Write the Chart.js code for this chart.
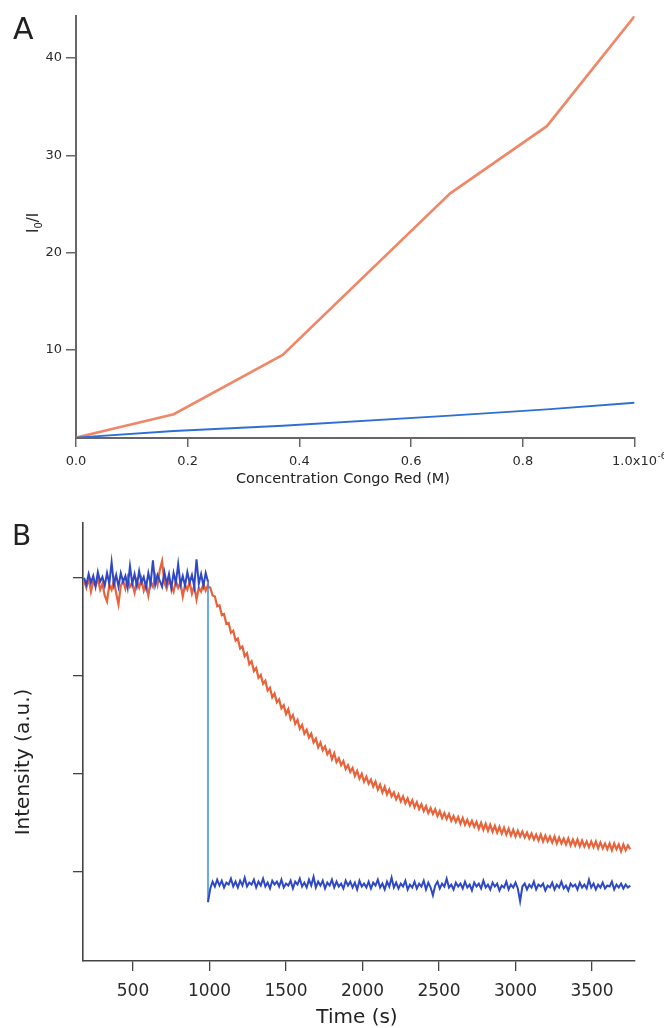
<!DOCTYPE html>
<html><head><meta charset="utf-8">
<script src="https://cdn.jsdelivr.net/npm/chart.js@4.4.1/dist/chart.umd.min.js"></script>
<style>
html,body{margin:0;padding:0;background:#fff;width:664px;height:1028px;overflow:hidden}
#wa{position:absolute;left:0;top:0;width:664px;height:490px}
#wb{position:absolute;left:0;top:490px;width:664px;height:538px}
</style></head><body>
<div id="wa"><canvas id="ca"></canvas></div>
<div id="wb"><canvas id="cb"></canvas></div>
<script>
// ---------- Panel A data ----------
const concentrationM = [0, 0.175e-6, 0.37e-6, 0.67e-6, 0.843e-6, 1.0e-6];
const ratioCongoRed  = [1.0, 3.4, 9.5, 26.1, 33.0, 44.3];
const ratioControl   = [1.0, 1.68, 2.22, 3.25, 3.9, 4.58];
const concTicks      = [0, 0.2e-6, 0.4e-6, 0.6e-6, 0.8e-6, 1.0e-6];
const concTickLabels = ['0.0', '0.2', '0.4', '0.6', '0.8', '1.0x10'];
const ratioTicks     = [10, 20, 30, 40];

// ---------- Panel B data ----------
const timeS = [
 180,195,210,225,240,255,270,285,300,315,330,345,360,375,390,405,420,435,450,465,480,495,510,525,540,555,570,585,600,615,630,645,660,675,690,705,720,735,750,765,780,795,810,825,840,855,870,885,900,915,930,945,960,975,990,
 990,
 1005,1020,1035,1050,1065,1080,1095,1110,1125,1140,
 1155,1170,1185,1200,1215,1230,1245,1260,1275,1290,
 1305,1320,1335,1350,1365,1380,1395,1410,1425,1440,
 1455,1470,1485,1500,1515,1530,1545,1560,1575,1590,
 1605,1620,1635,1650,1665,1680,1695,1710,1725,1740,
 1755,1770,1785,1800,1815,1830,1845,1860,1875,1890,
 1905,1920,1935,1950,1965,1980,1995,2010,2025,2040,
 2055,2070,2085,2100,2115,2130,2145,2160,2175,2190,
 2205,2220,2235,2250,2265,2280,2295,2310,2325,2340,
 2355,2370,2385,2400,2415,2430,2445,2460,2475,2490,
 2505,2520,2535,2550,2565,2580,2595,2610,2625,2640,
 2655,2670,2685,2700,2715,2730,2745,2760,2775,2790,
 2805,2820,2835,2850,2865,2880,2895,2910,2925,2940,
 2955,2970,2985,3000,3015,3030,3045,3060,3075,3090,
 3105,3120,3135,3150,3165,3180,3195,3210,3225,3240,
 3255,3270,3285,3300,3315,3330,3345,3360,3375,3390,
 3405,3420,3435,3450,3465,3480,3495,3510,3525,3540,
 3555,3570,3585,3600,3615,3630,3645,3660,3675,3690,
 3705,3720,3735,3750];
const intensityRed = [
 3.97,3.90,4.00,3.86,3.96,3.92,3.99,3.88,3.94,3.82,3.76,3.93,3.88,3.98,3.84,3.73,3.92,3.97,3.89,4.00,3.91,3.95,3.85,3.97,3.90,3.99,3.87,3.94,3.82,3.96,3.91,4.02,3.93,4.08,4.17,3.95,3.89,3.98,3.92,3.86,3.97,3.90,3.95,3.81,3.93,3.88,3.96,3.84,3.92,3.78,3.90,3.86,3.94,3.87,3.93,
 3.91,
 3.90,3.82,3.81,3.71,3.72,3.62,3.63,3.53,3.54,3.44,
 3.46,3.36,3.38,3.28,3.30,3.20,3.23,3.12,3.15,3.05,
 3.08,2.98,3.01,2.92,2.95,2.85,2.88,2.78,2.82,2.73,
 2.76,2.67,2.70,2.61,2.66,2.56,2.60,2.51,2.55,2.46,
 2.50,2.41,2.45,2.37,2.41,2.32,2.36,2.27,2.32,2.24,
 2.28,2.20,2.24,2.15,2.21,2.12,2.16,2.09,2.13,2.05,
 2.09,2.02,2.06,1.98,2.03,1.95,2.00,1.92,1.97,1.90,
 1.94,1.87,1.92,1.84,1.89,1.81,1.87,1.79,1.84,1.77,
 1.81,1.74,1.79,1.72,1.77,1.70,1.75,1.68,1.73,1.66,
 1.71,1.64,1.69,1.62,1.67,1.60,1.65,1.59,1.64,1.57,
 1.62,1.55,1.60,1.54,1.59,1.52,1.57,1.51,1.56,1.49,
 1.55,1.48,1.53,1.47,1.52,1.46,1.51,1.44,1.50,1.43,
 1.49,1.42,1.48,1.41,1.47,1.40,1.46,1.39,1.45,1.38,
 1.44,1.37,1.43,1.36,1.42,1.36,1.41,1.35,1.40,1.34,
 1.39,1.33,1.38,1.32,1.38,1.31,1.37,1.31,1.36,1.30,
 1.36,1.29,1.35,1.29,1.34,1.28,1.34,1.27,1.33,1.27,
 1.33,1.26,1.32,1.26,1.31,1.25,1.31,1.25,1.31,1.24,
 1.30,1.24,1.29,1.23,1.29,1.22,1.29,1.23,1.28,1.21,
 1.28,1.22,1.27,1.23];
const intensityBlue = [
 4.00,3.93,4.04,3.95,4.02,3.91,4.06,3.96,4.01,3.92,4.05,3.94,4.16,3.93,4.03,3.91,4.05,3.96,4.02,3.90,4.12,3.94,4.04,3.92,4.07,3.95,4.01,3.90,4.05,3.94,4.18,3.93,4.03,3.97,3.91,4.06,3.94,4.04,3.89,4.05,3.95,4.14,3.93,4.02,3.92,4.06,3.95,4.03,3.91,4.19,3.94,4.04,3.92,4.05,3.96,
 0.69,
 0.83,0.90,0.85,0.92,0.86,0.91,0.84,0.89,0.87,0.93,
 0.85,0.90,0.84,0.91,0.86,0.94,0.85,0.89,0.87,0.92,
 0.84,0.90,0.86,0.93,0.85,0.89,0.83,0.91,0.87,0.90,
 0.85,0.92,0.84,0.88,0.86,0.91,0.83,0.90,0.87,0.93,
 0.85,0.89,0.84,0.92,0.86,0.95,0.84,0.90,0.86,0.91,
 0.83,0.89,0.86,0.92,0.84,0.90,0.85,0.88,0.83,0.91,
 0.86,0.90,0.84,0.89,0.82,0.91,0.85,0.88,0.84,0.90,
 0.83,0.89,0.86,0.92,0.84,0.88,0.82,0.90,0.85,0.94,
 0.84,0.89,0.83,0.88,0.85,0.91,0.82,0.87,0.84,0.90,
 0.83,0.88,0.85,0.91,0.82,0.89,0.84,0.76,0.86,0.90,
 0.83,0.88,0.85,0.93,0.84,0.87,0.82,0.89,0.85,0.88,
 0.83,0.90,0.84,0.87,0.81,0.89,0.85,0.88,0.83,0.91,
 0.84,0.87,0.82,0.89,0.85,0.88,0.81,0.86,0.84,0.90,
 0.82,0.87,0.84,0.89,0.83,0.70,0.85,0.88,0.82,0.87,
 0.84,0.90,0.82,0.87,0.85,0.88,0.81,0.86,0.84,0.89,
 0.82,0.87,0.84,0.90,0.83,0.86,0.81,0.88,0.85,0.87,
 0.82,0.89,0.84,0.87,0.83,0.92,0.84,0.88,0.82,0.87,
 0.84,0.89,0.83,0.86,0.85,0.90,0.82,0.87,0.84,0.88,
 0.83,0.87,0.84,0.86];
const timeTicks = [500, 1000, 1500, 2000, 2500, 3000, 3500];
const intensityTicks = [1, 2, 3, 4];

const FONT = '"DejaVu Sans", sans-serif';
const pts = (xs, ys) => xs.map((x, i) => ({x: x, y: ys[i]}));

const textA = {
  id: 'textA',
  afterDraw(chart) {
    const c = chart.ctx;
    c.save();
    c.fillStyle = '#222';
    c.textBaseline = 'alphabetic';
    c.font = '30px ' + FONT;
    c.fillText('A', 13, 39);
    c.font = '14.5px ' + FONT;
    c.textAlign = 'center';
    c.fillText('Concentration Congo Red (M)', 343, 483);
    const px = chart.scales.x.getPixelForValue(concTicks[concTicks.length - 1]);
    c.font = '13px ' + FONT;
    const lw = c.measureText(concTickLabels[concTickLabels.length - 1]).width;
    c.textAlign = 'left';
    c.fillStyle = '#2a2a2a';
    c.font = '9px ' + FONT;
    c.fillText('-6', px + lw / 2 + 0.5, 459);
    c.fillStyle = '#222';
    c.translate(38, 233);
    c.rotate(-Math.PI / 2);
    c.font = '15px ' + FONT;
    c.fillText('I', 0, 0);
    const w1 = c.measureText('I').width;
    c.font = '10px ' + FONT;
    c.fillText('0', w1, 4);
    const w2 = c.measureText('0').width;
    c.font = '15px ' + FONT;
    c.fillText('/I', w1 + w2, 0);
    c.restore();
  }
};

const textB = {
  id: 'textB',
  afterDraw(chart) {
    const c = chart.ctx;
    c.save();
    c.fillStyle = '#222';
    c.textBaseline = 'alphabetic';
    c.font = '28px ' + FONT;
    c.fillText('B', 12, 55);
    c.font = '20px ' + FONT;
    c.textAlign = 'center';
    c.fillText('Time (s)', 357, 533);
    c.translate(28.5, 272);
    c.rotate(-Math.PI / 2);
    c.fillText('Intensity (a.u.)', 0, 0);
    c.restore();
  }
};

new Chart(document.getElementById('ca'), {
  type: 'line',
  data: {
    datasets: [
      {data: pts(concentrationM, ratioControl), borderColor: '#2f6fd3', borderWidth: 1.8, pointRadius: 0, tension: 0},
      {data: pts(concentrationM, ratioCongoRed), borderColor: '#ef8868', borderWidth: 2.6, pointRadius: 0, tension: 0}
    ]
  },
  options: {
    responsive: true, maintainAspectRatio: false, animation: false, events: [],
    layout: {padding: {left: 0, right: 27, top: 16, bottom: 0}},
    plugins: {legend: {display: false}, tooltip: {enabled: false}},
    scales: {
      x: {
        type: 'linear', min: 0, max: 1.0e-6,
        afterBuildTicks: s => { s.ticks = concTicks.map(v => ({value: v})); },
        afterFit: s => { s.height = 52; },
        border: {display: true, color: '#666', width: 2},
        grid: {drawOnChartArea: false, drawTicks: true, tickLength: 9, color: '#666', lineWidth: 1.5},
        ticks: {autoSkip: false, maxRotation: 0, padding: 7, color: '#2a2a2a', font: {family: FONT, size: 13},
                callback: (v, i) => concTickLabels[i]}
      },
      y: {
        type: 'linear', min: 0.96, max: 44.32,
        afterBuildTicks: s => { s.ticks = ratioTicks.map(v => ({value: v})); },
        afterFit: s => { s.width = 76; },
        border: {display: true, color: '#666', width: 2},
        grid: {drawOnChartArea: false, drawTicks: true, tickLength: 10, color: '#666', lineWidth: 1.5},
        ticks: {padding: 4, color: '#2a2a2a', font: {family: FONT, size: 13}, callback: v => String(v)}
      }
    }
  },
  plugins: [textA]
});

new Chart(document.getElementById('cb'), {
  type: 'line',
  data: {
    datasets: [
      {data: pts(timeS, intensityBlue), borderColor: '#2f48c4', borderWidth: 2.0, pointRadius: 0, tension: 0,
       segment: {borderColor: c => c.p0.parsed.x === c.p1.parsed.x ? '#3a8ee8' : undefined,
                 borderWidth: c => c.p0.parsed.x === c.p1.parsed.x ? 1.5 : undefined}},
      {data: pts(timeS, intensityRed), borderColor: '#e8623a', borderWidth: 2.2, pointRadius: 0, tension: 0}
    ]
  },
  options: {
    responsive: true, maintainAspectRatio: false, animation: false, events: [],
    layout: {padding: {left: 0, right: 29, top: 33, bottom: 0}},
    plugins: {legend: {display: false}, tooltip: {enabled: false}},
    scales: {
      x: {
        type: 'linear', min: 173, max: 3781,
        afterBuildTicks: s => { s.ticks = timeTicks.map(v => ({value: v})); },
        afterFit: s => { s.height = 67; },
        border: {display: true, color: '#444', width: 1.6},
        grid: {drawOnChartArea: false, drawTicks: true, tickLength: 10, color: '#444', lineWidth: 1.3},
        ticks: {autoSkip: false, maxRotation: 0, padding: 10, color: '#2a2a2a', font: {family: FONT, size: 17},
                callback: v => String(v)}
      },
      y: {
        type: 'linear', min: 0.09, max: 4.56,
        afterBuildTicks: s => { s.ticks = intensityTicks.map(v => ({value: v})); },
        afterFit: s => { s.width = 83; },
        border: {display: true, color: '#444', width: 1.6},
        grid: {drawOnChartArea: false, drawTicks: true, tickLength: 10, color: '#444', lineWidth: 1.3},
        ticks: {padding: 0, callback: () => ''}
      }
    }
  },
  plugins: [textB]
});
</script>
</body></html>
